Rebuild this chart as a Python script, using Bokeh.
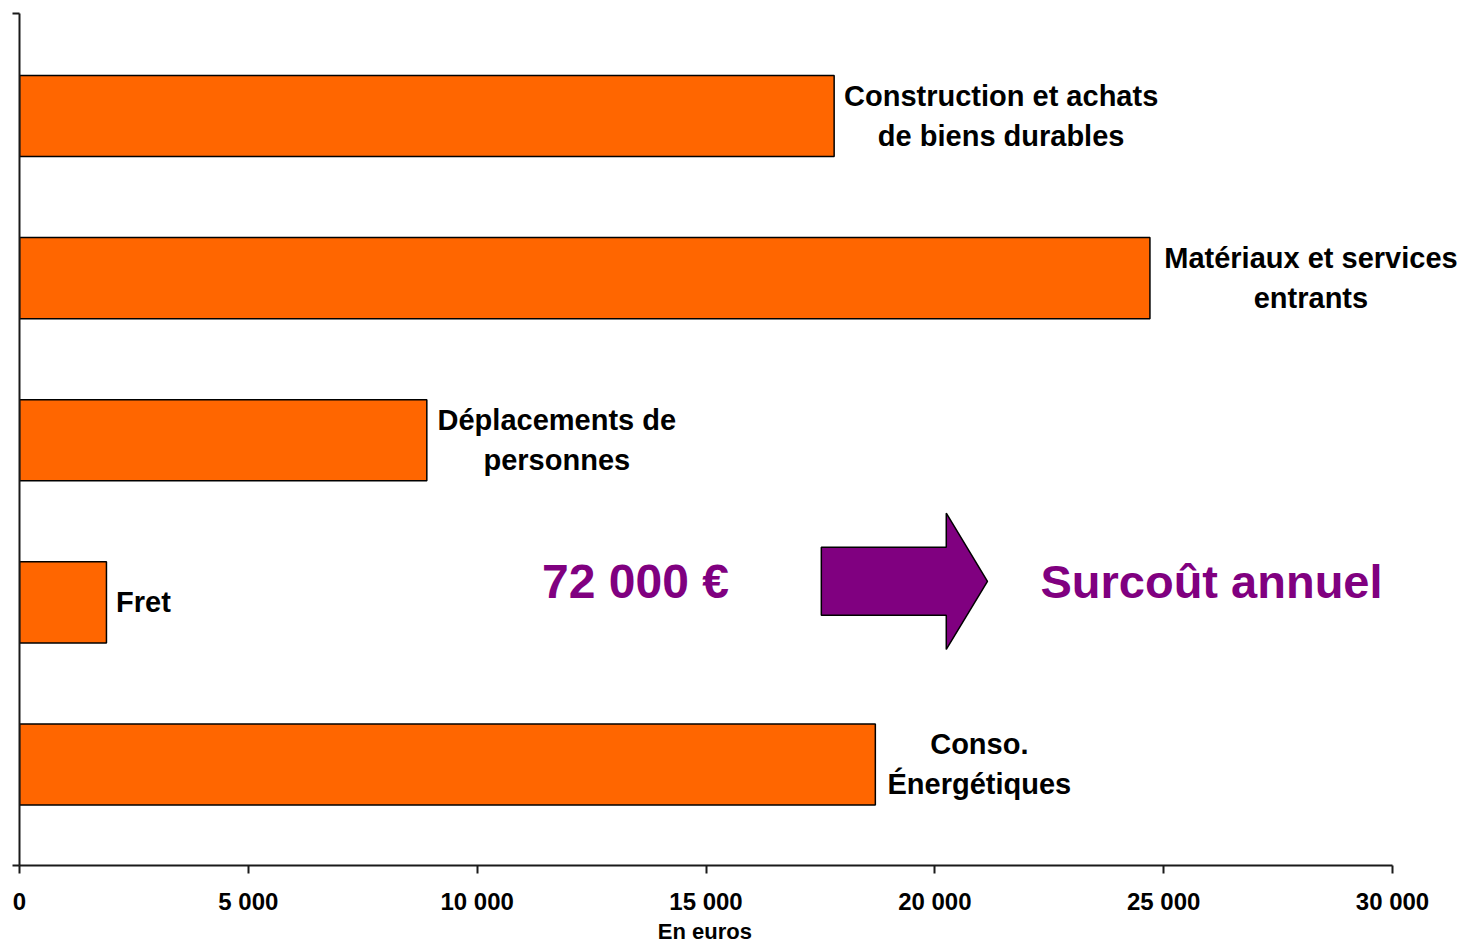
from bokeh.plotting import figure
from bokeh.models import Range1d, FixedTicker, ColumnDataSource
from bokeh.embed import file_html
from bokeh.resources import INLINE
from bokeh.core.properties import value

# ---- data ----
categories = [
    "Construction et achats\nde biens durables",
    "Matériaux et services\nentrants",
    "Déplacements de\npersonnes",
    "Fret",
    "Conso.\nÉnergétiques",
]
values = [17800, 24700, 8900, 1900, 18700]
total_label = "72 000 €"
arrow_label = "Surcoût annuel"
x_ticks = [0, 5000, 10000, 15000, 20000, 25000, 30000]
x_tick_labels = ["0", "5 000", "10 000", "15 000", "20 000", "25 000", "30 000"]
axis_title = "En euros"

# ---- style / layout ----
FONT = value("Liberation Sans")
BAR_COLOR = "#FF6600"
PURPLE = "#800080"
AXIS_COLOR = "#1a1a1a"
label_offsets_px = [167, 161, 130, 37, 104]   # screen offset of label block centre from bar end
FRAME_W, FRAME_H = 1438, 852
X_MAX = 30000
X_END = X_MAX * FRAME_W / 1373.0
Y_START, Y_END = 0.377, 5.632
LINE_DY = 40.0 / (FRAME_H / (Y_END - Y_START))  # 40px line spacing in data units
TITLE_PAD = "\u00a0" * 11   # keeps the axis title centred under the 0-30000 axis, not the frame

n = len(categories)
ypos = [n - i for i in range(n)]

p = figure(frame_width=FRAME_W, frame_height=FRAME_H,
           x_range=Range1d(0, X_END), y_range=Range1d(Y_START, Y_END),
           output_backend="svg", toolbar_location=None,
           min_border_left=19, min_border_right=0, min_border_top=13, min_border_bottom=0)
p.outline_line_color = None
p.xgrid.visible = False
p.ygrid.visible = False
p.background_fill_color = "white"

# bars
src = ColumnDataSource(dict(y=ypos, v=values))
p.hbar(y="y", right="v", left=0, height=0.5, source=src,
       fill_color=BAR_COLOR, line_color="black", line_width=1.5)

# category labels (one glyph per text line)
lx, ly, lt, lo = [], [], [], []
for i, (cat, v) in enumerate(zip(categories, values)):
    lines = cat.split("\n")
    k = len(lines)
    for j, line in enumerate(lines):
        lx.append(v)
        ly.append(ypos[i] + ((k - 1) / 2.0 - j) * LINE_DY)
        lt.append(line)
        lo.append(label_offsets_px[i])
lsrc = ColumnDataSource(dict(x=lx, y=ly, t=lt, o=lo))
p.text(x="x", y="y", text="t", x_offset="o", source=lsrc,
       text_align="center", text_baseline="middle",
       text_font=FONT, text_font_style="bold", text_font_size="29px",
       text_color="black")

# annotation: total, block arrow, caption
ay = 2.13
ax0, ax1, axt = 17520, 20250, 21150
bh, hh = 0.21, 0.42
p.patch(x=[ax0, ax1, ax1, axt, ax1, ax1, ax0],
        y=[ay + bh, ay + bh, ay + hh, ay, ay - hh, ay - bh, ay - bh],
        fill_color=PURPLE, line_color="black", line_width=1.5)
p.text(x=[13460], y=[ay], text=[total_label], text_align="center", text_baseline="middle",
       text_font=FONT, text_font_style="bold", text_font_size="48px", text_color=PURPLE)
p.text(x=[26045], y=[ay], text=[arrow_label], text_align="center", text_baseline="middle",
       text_font=FONT, text_font_style="bold", text_font_size="47px", text_color=PURPLE)

# x axis
xa = p.xaxis[0]
xa.ticker = FixedTicker(ticks=x_ticks, minor_ticks=[])
xa.major_label_overrides = {t: l for t, l in zip(x_ticks, x_tick_labels)}
xa.bounds = (0, X_MAX)
xa.axis_line_color = AXIS_COLOR
xa.axis_line_width = 2
xa.major_tick_line_color = AXIS_COLOR
xa.major_tick_line_width = 2
xa.major_tick_out = 8
xa.major_tick_in = 0
xa.minor_tick_line_color = None
xa.major_label_text_font = "Liberation Sans"
xa.major_label_text_font_style = "bold"
xa.major_label_text_font_size = "24px"
xa.major_label_text_color = "black"
xa.major_label_standoff = 14
xa.axis_label = axis_title + TITLE_PAD
xa.axis_label_text_font = "Liberation Sans"
xa.axis_label_text_font_style = "bold"
xa.axis_label_text_font_size = "22px"
xa.axis_label_text_color = "black"
xa.axis_label_standoff = 1

# y axis (line + end ticks only)
ya = p.yaxis[0]
ya.ticker = FixedTicker(ticks=[Y_START, Y_END], minor_ticks=[])
ya.bounds = (Y_START, Y_END)
ya.axis_line_color = AXIS_COLOR
ya.axis_line_width = 2
ya.major_tick_line_color = AXIS_COLOR
ya.major_tick_line_width = 2
ya.major_tick_out = 7
ya.major_tick_in = 0
ya.minor_tick_line_color = None
ya.major_label_text_font_size = "0px"
ya.major_label_standoff = 0
ya.major_label_overrides = {Y_START: "", Y_END: ""}

open("out.html", "w").write(file_html(p, INLINE))
